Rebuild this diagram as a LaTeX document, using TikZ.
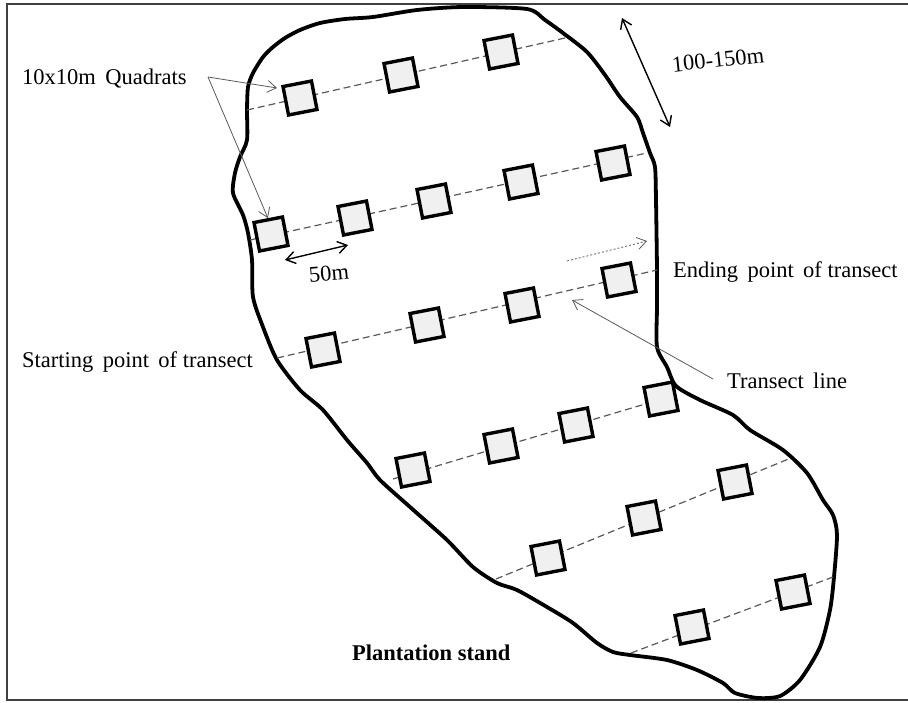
\documentclass[tikz,border=0pt]{standalone}
\usepackage{fontspec}
\setmainfont{Liberation Serif}
\usetikzlibrary{arrows.meta}
\definecolor{quadfill}{gray}{0.94}
\definecolor{dashgray}{gray}{0.35}
\definecolor{arrowgray}{gray}{0.35}
\definecolor{framegray}{gray}{0.25}
\begin{document}
\begin{tikzpicture}[x=1pt,y=-1pt,
  quad/.style={draw=black, line width=3.4pt, fill=quadfill, minimum size=29pt, inner sep=0pt, rotate=11},
  transect/.style={draw=dashgray, line width=1.2pt, dash pattern=on 7pt off 4pt},
  lbl/.style={font=\fontsize{22.5}{27}\selectfont, inner sep=0pt},
  pointer/.style={draw=arrowgray, line width=0.8pt, -{Straight Barb[length=9pt,width=12pt]}},
  dimarrow/.style={draw=black, line width=1.4pt, {Straight Barb[length=9pt,width=12pt]}-{Straight Barb[length=9pt,width=12pt]}},
  outline/.style={draw=black, line width=3.8pt, line join=round},
]
\useasboundingbox (0,0) rectangle (908,702);
% frame
\draw[framegray, line width=2pt] (910,4) -- (7,4) -- (7,700) -- (910,700);

% plantation outline
\draw[outline] plot[smooth cycle, tension=0.45] coordinates {
(233,193) (235,173) (240,157) (247,140) (247,110) (248,87) (253,73) (263,57)
(273,47) (285,38) (300,30) (320,23) (345,19) (373,17) (417,10) (463,7) (527,9)
(545,20) (563,33) (587,52) (605,75) (620,97) (637,117) (643,133) (650,153)
(655,167) (656,200) (657,270) (657,307) (657,347) (667,367) (676,386) (700,400)
(733,415) (750,430) (783,450) (807,473) (823,500) (833,515) (837,535) (834,577)
(830,610) (820,647) (800,680) (780,696) (758,698) (735,693) (723,683) (697,670)
(667,660) (630,655) (613,652) (597,643) (573,623) (547,607) (517,590) (497,583)
(473,567) (447,540) (410,507) (380,480) (367,463) (347,440) (323,410) (300,390)
(277,360) (263,327) (253,297) (252,260) (248,233) (243,215)};

% transect line ends
\coordinate (s1) at (247,110); \coordinate (e1) at (565,38);
\coordinate (s2) at (250,240); \coordinate (e2) at (647,153);
\coordinate (s3) at (277,358); \coordinate (e3) at (657,270);
\coordinate (s4) at (393,479); \coordinate (e4) at (662,399);
\coordinate (s5) at (496,579); \coordinate (e5) at (791,458);
\coordinate (s6) at (631,653); \coordinate (e6) at (833,577);
\foreach \i in {1,...,6} {\draw[transect] (s\i) -- (e\i);}

% quadrats
\node[quad] (q11) at (300,98) {};
\node[quad] (q12) at (401,75) {};
\node[quad] (q13) at (501,52) {};
\node[quad] (q21) at (271,234) {};
\node[quad] (q22) at (355,218) {};
\node[quad] (q23) at (434,201) {};
\node[quad] (q24) at (521,182) {};
\node[quad] (q25) at (613,163) {};
\node[quad] (q31) at (323,350) {};
\node[quad] (q32) at (427,325) {};
\node[quad] (q33) at (522,305) {};
\node[quad] (q34) at (619,280) {};
\node[quad] (q41) at (413,470) {};
\node[quad] (q42) at (501,446) {};
\node[quad] (q43) at (576,425) {};
\node[quad] (q44) at (661,399) {};
\node[quad] (q51) at (548,558) {};
\node[quad] (q52) at (644,518) {};
\node[quad] (q53) at (735,482) {};
\node[quad] (q61) at (692,627) {};
\node[quad] (q62) at (793,592) {};

% labels
\node[lbl, anchor=base west] (lquad) at (22,84) {10x10m\ \,Quadrats};
\node[lbl, rotate=6] (ldist) at (718,60) {100-150m};
\node[lbl, rotate=5] (lfifty) at (329,273) {50m};
\node[lbl, anchor=base west] (lend) at (673,277) {Ending\ \,point\ \,of transect};
\node[lbl, anchor=base west] (lstart) at (22,367) {Starting\ \,point\ \,of transect};
\node[lbl, anchor=base west] (ltr) at (727,388) {Transect\ \,line};
\node[lbl, anchor=base west, font=\fontsize{22.5}{27}\selectfont\bfseries] (lplant) at (352,660) {Plantation stand};

% pointers
\coordinate (qsrc) at (208,77);
\coordinate (qa1) at (277,88);
\draw[pointer] (qsrc) -- (qa1);
\draw[pointer] (qsrc) -- (q21.north);
\coordinate (tsrc) at (713,379);
\coordinate (ttip) at (572,300);
\draw[pointer] (tsrc) -- (ttip);
\coordinate (dsrc) at (567,261);
\coordinate (dtip) at (647,241);
\draw[pointer, dash pattern=on 2pt off 2pt] (dsrc) -- (dtip);

% dimension arrows
\coordinate (da) at (622,18);
\coordinate (db) at (670,127);
\draw[dimarrow] (da) -- (db);
\coordinate (fa) at (285,260);
\coordinate (fb) at (348,245);
\draw[dimarrow] (fa) -- (fb);
\end{tikzpicture}
\end{document}
